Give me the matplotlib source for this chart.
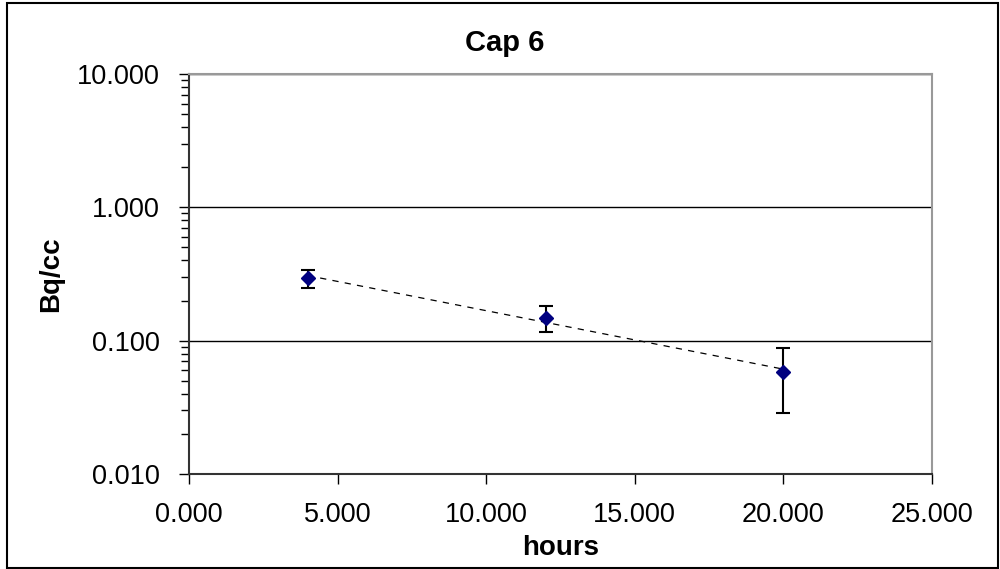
import numpy as np
import matplotlib.pyplot as plt
from matplotlib.patches import Rectangle
from matplotlib.ticker import FixedLocator, LogLocator, FuncFormatter

plt.rcParams['font.family'] = ['Liberation Sans', 'DejaVu Sans']

# data
hours = [4, 12, 20]
bq_cc = [0.295, 0.149, 0.0586]
bq_err = [0.045, 0.033, 0.030]

x_ticks = [0, 5, 10, 15, 20, 25]
y_ticks = [0.01, 0.1, 1, 10]

fig = plt.figure(figsize=(10, 5.69), dpi=100)
ax = fig.add_axes([0.189, 0.167, 0.743, 0.703])

# outer chart border
fig.patches.append(Rectangle((0.007, 0.002), 0.991, 0.992, transform=fig.transFigure,
                             fill=False, edgecolor='black', linewidth=1.5))

# exponential trendline (fit on log values)
coef = np.polyfit(hours, np.log(bq_cc), 1)
xt = np.array([hours[0], hours[-1]])
ax.plot(xt, np.exp(np.polyval(coef, xt)), color='black', linestyle=(0, (5, 5)), linewidth=0.9, zorder=2)

ax.errorbar(hours, bq_cc, yerr=bq_err, fmt='D', color='#000080', markersize=7.5,
            ecolor='black', elinewidth=1.5, capsize=5, capthick=1.5, zorder=3)

ax.set_yscale('log')
ax.set_xlim(0, 25)
ax.set_ylim(0.01, 10)
ax.xaxis.set_major_locator(FixedLocator(x_ticks))
ax.yaxis.set_major_locator(FixedLocator(y_ticks))
ax.yaxis.set_minor_locator(LogLocator(base=10, subs=np.arange(2, 10)))
ax.xaxis.set_major_formatter(FuncFormatter(lambda v, p: f'{v:.3f}'))
ax.yaxis.set_major_formatter(FuncFormatter(lambda v, p: f'{v:.3f}'))
ax.yaxis.set_minor_formatter(FuncFormatter(lambda v, p: ''))

ax.grid(True, axis='y', which='major', color='black', linewidth=1)
ax.tick_params(axis='both', which='major', direction='out', length=7, width=1, labelsize=19.5)
ax.tick_params(axis='x', pad=13)
ax.tick_params(axis='y', pad=14)
ax.tick_params(axis='y', which='minor', direction='out', length=6, width=1)

for s in ['top', 'right']:
    ax.spines[s].set_color('#999999')
    ax.spines[s].set_linewidth(1.5)
for s in ['left', 'bottom']:
    ax.spines[s].set_color('#333333')
    ax.spines[s].set_linewidth(1.5)

ax.set_xlabel('hours', fontsize=20, fontweight='bold', labelpad=5)
ax.set_ylabel('Bq/cc', fontsize=20, fontweight='bold', labelpad=9)
fig.text(0.505, 0.925, 'Cap 6', fontsize=21, fontweight='bold', ha='center', va='center')

fig.savefig('out.png', dpi=100)
